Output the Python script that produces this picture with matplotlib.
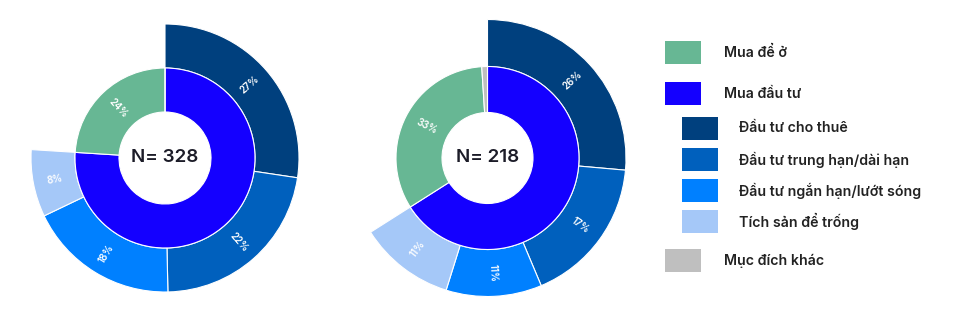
import numpy as np
import matplotlib
matplotlib.use("Agg")
import matplotlib.pyplot as plt
from matplotlib.patches import Rectangle

plt.rcParams['font.family'] = ['Inter', 'DejaVu Sans']

# Data
inner_labels = ["Mua đầu tư", "Mua để ở", "Mục đích khác"]
outer_labels = ["Đầu tư cho thuê", "Đầu tư trung hạn/dài hạn",
                "Đầu tư ngắn hạn/lướt sóng", "Tích sản để trống"]

left_inner = [76, 24, 0]
left_outer = [27, 22, 18, 8]
left_n = 328

right_inner = [66, 33, 1]
right_outer = [26, 17, 11, 11]
right_n = 218

c_green = "#67b794"
c_invest = "#1400ff"
c_other = "#bfbfbf"
outer_colors = ["#00407e", "#0060bd", "#0080ff", "#a5c8f8"]
inner_colors = [c_invest, c_green, c_other]

W, H = 959, 310
fig = plt.figure(figsize=(W / 100, H / 100), dpi=100)


def label_ring(ax, values, total, r, labels):
    # radial text, flipped so it stays readable
    start = 90.0
    for v, lab in zip(values, labels):
        span = 360.0 * v / total
        mid = start - span / 2
        start -= span
        if lab is None:
            continue
        rot = mid if -90 <= mid <= 90 else mid + 180
        rot = (rot + 180) % 360 - 180
        if rot > 90:
            rot -= 180
        x, y = r * np.cos(np.radians(mid)), r * np.sin(np.radians(mid))
        ax.text(x, y, lab, rotation=rot, rotation_mode='anchor', ha='center', va='center',
                color='white', fontsize=7, fontweight='semibold')


def sunburst(cx, cy, R, r_mid, r_hole, inner, outer, n):
    ax = fig.add_axes([(cx - R) / W, (H - cy - R) / H, 2 * R / W, 2 * R / H])
    total = sum(inner)
    # children fill their parent ("Mua đầu tư")
    scale = inner[0] / sum(outer)
    outer_vals = [v * scale for v in outer] + [total - inner[0]]
    wp = dict(edgecolor='white', linewidth=0.8)
    ax.pie(outer_vals, radius=1.0, startangle=90, counterclock=False,
           colors=outer_colors + ['none'], wedgeprops=dict(width=(R - r_mid) / R, **wp))
    # hide edge of the empty remainder wedge
    ax.patches[-1].set_edgecolor('none')
    ax.pie(inner, radius=r_mid / R, startangle=90, counterclock=False,
           colors=inner_colors, wedgeprops=dict(width=(r_mid - r_hole) / R, **wp))
    label_ring(ax, outer_vals, total, (R + r_mid) / 2 / R,
               ["%d%%" % v for v in outer] + [None])
    label_ring(ax, inner, total, (r_mid + r_hole) / 2 / R,
               [None, "%d%%" % inner[1], None])
    ax.text(0, 0, "N= %d" % n, ha='center', va='center', fontsize=13.5,
            fontweight='semibold', color='#1c1c28')
    ax.set_xlim(-1, 1)
    ax.set_ylim(-1, 1)
    ax.axis('off')


sunburst(165, 158, 134, 90, 46, left_inner, left_outer, left_n)
sunburst(487.5, 158, 138.5, 91.5, 45.5, right_inner, right_outer, right_n)

# legend drawn in pixel coordinates
lax = fig.add_axes([0, 0, 1, 1], facecolor='none')
lax.set_xlim(0, W)
lax.set_ylim(H, 0)
lax.axis('off')

legend_rows = [("Mua để ở", c_green, 0, 52.5),
               ("Mua đầu tư", c_invest, 0, 93.5)]
legend_rows += [(lab, col, 1, y) for lab, col, y in
                zip(outer_labels, outer_colors, [128.5, 159.5, 190.5, 221.5])]
legend_rows += [("Mục đích khác", c_other, 0, 260.5)]

for lab, col, indent, y in legend_rows:
    x0 = 665 + 17 * indent
    lax.add_patch(Rectangle((x0, y - 11.5), 36, 23, facecolor=col, edgecolor='none'))
    lax.text(724 + 15 * indent, y, lab, ha='left', va='center', fontsize=10.2,
             fontweight='semibold', color='#222222')

fig.savefig("out.png", dpi=100)
